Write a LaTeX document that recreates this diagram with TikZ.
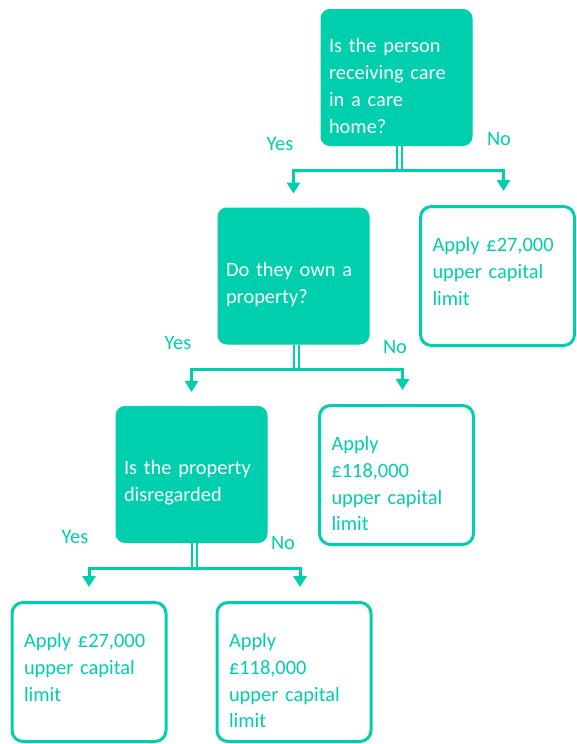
\documentclass[tikz,border=0pt]{standalone}
\usepackage{fontspec}
\setmainfont{Carlito}
\usepackage{xcolor}
\usetikzlibrary{arrows.meta, positioning}
\definecolor{mint}{HTML}{00CFAE}

\begin{document}
\begin{tikzpicture}[x=1pt, y=-1pt,
    question/.style={rectangle, draw=mint, fill=mint, text=white, line width=1pt, rounded corners=9pt, text width=135pt, inner xsep=8pt, text height=31pt, minimum height=136pt, align=left, font=\fontsize{20.4}{26.8}\selectfont},
    answer/.style={rectangle, draw=mint, fill=white, text=mint, line width=3pt, rounded corners=11pt, text width=130pt, inner xsep=12pt, inner ysep=0pt, text height=45pt, text depth=94pt, align=left, font=\fontsize{20.4}{26.8}\selectfont},
    split/.style={draw=mint, line width=2pt, double=white, double distance=2.5pt},
    arrow/.style={draw=mint, line width=3pt, -{Triangle[width=13pt,length=11pt]}, shorten >=14pt},
    tag/.style={text=mint, font=\fontsize{20.4}{26.8}\selectfont}]

    \useasboundingbox (0,0) rectangle (577,744);

    \node [question] (carehome) at (396.5,77.5) {Is the person\\receiving care\\in a care\\home?};
    \node [answer] (limitA) at (497.5,276) {Apply £27,000\\upper capital\\limit};
    \node [question] (ownprop) at (293.5,276) {Do they own a\\property?};
    \node [answer] (limitB) at (396.5,475) {Apply\\£118,000\\upper capital\\limit};
    \node [question] (disreg) at (191.5,474.5) {Is the property\\disregarded};
    \node [answer] (limitC) at (89,672) {Apply £27,000\\upper capital\\limit};
    \node [answer] (limitD) at (294,672) {Apply\\£118,000\\upper capital\\limit};

    \node [tag] (yes1) at (280,144) {Yes};
    \node [tag] (no1) at (499,139) {No};
    \node [tag] (yes2) at (178,343) {Yes};
    \node [tag] (no2) at (395,347) {No};
    \node [tag] (yes3) at (75,537) {Yes};
    \node [tag] (no3) at (283,543) {No};

    % split points under each question
    \coordinate (j1) at ([xshift=3pt, yshift=-24pt]carehome.south);
    \coordinate (j2) at ([xshift=3pt, yshift=-25pt]ownprop.south);
    \coordinate (j3) at ([xshift=3pt, yshift=-25pt]disreg.south);

    \draw [split] (carehome.south -| j1) -- (j1);
    \draw [arrow] (j1) -| (ownprop.north);
    \draw [arrow] (j1) -| ([xshift=6pt]limitA.north);

    \draw [split] (ownprop.south -| j2) -- (j2);
    \draw [arrow] (j2) -| (disreg.north);
    \draw [arrow] (j2) -| ([xshift=6pt]limitB.north);

    \draw [split] (disreg.south -| j3) -- (j3);
    \draw [arrow] (j3) -| (limitC.north);
    \draw [arrow] (j3) -| ([xshift=6pt]limitD.north);
\end{tikzpicture}
\end{document}
